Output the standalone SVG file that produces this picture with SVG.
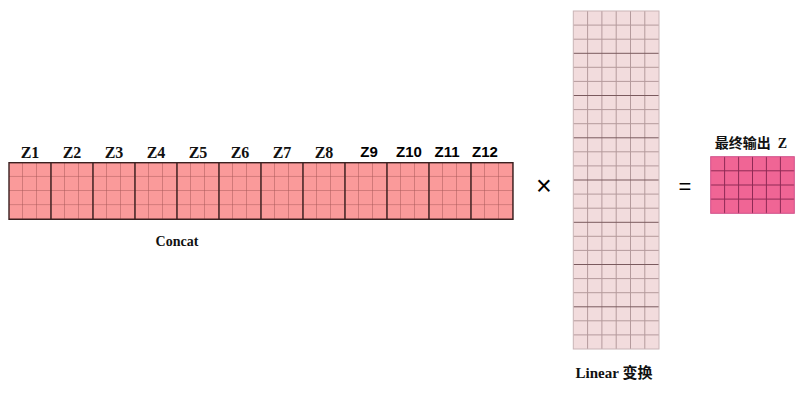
<svg xmlns="http://www.w3.org/2000/svg" width="806" height="402" viewBox="0 0 806 402">
<defs>
<style>
.ser{font-family:"Liberation Serif","Times New Roman",serif;font-weight:bold;fill:#111;text-anchor:middle}
.san{font-family:"Liberation Sans",Arial,sans-serif;font-weight:bold;fill:#000;text-anchor:middle}
.cjk{font-family:"Liberation Serif","Noto Sans CJK SC",serif;font-weight:bold;fill:#111;text-anchor:middle}
.inner{stroke:#a85858;stroke-width:1;fill:none}
.lin{stroke:#b49a9c;stroke-width:1;fill:none}
.lind{stroke:#7a5a5e;stroke-width:1;fill:none}
.outl{stroke:#8f2a55;stroke-width:1;fill:none}
</style>
<pattern id="cpat" x="9" y="162.7" width="14" height="14.15" patternUnits="userSpaceOnUse">
<path d="M14 0V14.15M0 14.15H14" class="inner"/>
</pattern>
</defs>
<rect width="806" height="402" fill="#fff"/>
<g id="concat">
<rect x="9" y="162.7" width="504" height="56.6" fill="#fa9a9a"/>
<rect x="9" y="162.7" width="504" height="56.6" fill="url(#cpat)"/>
<path d="M51 162.7V219.3M93 162.7V219.3M135 162.7V219.3M177 162.7V219.3M219 162.7V219.3M261 162.7V219.3M303 162.7V219.3M345 162.7V219.3M387 162.7V219.3M429 162.7V219.3M471 162.7V219.3" stroke="#3a2020" stroke-width="1.4"/>
<rect x="9" y="162.7" width="504" height="56.6" fill="none" stroke="#3a2020" stroke-width="1.4"/>
</g>
<g id="labels-z">
<text class="ser" x="30" y="158" font-size="16">Z1</text>
<text class="ser" x="72" y="158" font-size="16">Z2</text>
<text class="ser" x="114" y="158" font-size="16">Z3</text>
<text class="ser" x="156" y="158" font-size="16">Z4</text>
<text class="ser" x="198" y="158" font-size="16">Z5</text>
<text class="ser" x="240" y="158" font-size="16">Z6</text>
<text class="ser" x="282" y="158" font-size="16">Z7</text>
<text class="ser" x="324" y="158" font-size="16">Z8</text>
<text class="san" x="369" y="157" font-size="15">Z9</text>
<text class="san" x="409" y="157" font-size="15">Z10</text>
<text class="san" x="447" y="157" font-size="15">Z11</text>
<text class="san" x="485" y="157" font-size="15">Z12</text>
</g>
<g id="concat-label"><text class="ser" x="177" y="246" font-size="14">Concat</text></g>
<g id="times"><text class="san" x="544" y="195" font-size="27" style="font-weight:normal">×</text></g>
<g id="linear">
<rect x="573.3" y="11" width="85.7" height="338" fill="#f2dcdd"/>
<path class="lin" d="M587.6 11V349M601.9 11V349M616.2 11V349M630.5 11V349M644.8 11V349"/>
<path class="lin" d="M573.3 25.1H659M573.3 39.2H659M573.3 67.3H659M573.3 81.4H659M573.3 109.6H659M573.3 123.7H659M573.3 151.8H659M573.3 165.9H659M573.3 194.1H659M573.3 208.2H659M573.3 236.3H659M573.3 250.4H659M573.3 278.6H659M573.3 292.7H659M573.3 320.8H659M573.3 334.9H659"/>
<path class="lind" d="M573.3 53.3H659M573.3 95.5H659M573.3 137.8H659M573.3 180H659M573.3 222.3H659M573.3 264.5H659M573.3 306.8H659"/>
<rect x="573.3" y="11" width="85.7" height="338" fill="none" stroke="#c9b4b6" stroke-width="1"/>
</g>
<g id="linear-label"><text class="cjk" x="614" y="378" font-size="15">Linear 变换</text></g>
<g id="equals"><text class="san" x="685" y="194" font-size="22" style="font-weight:normal">=</text></g>
<g id="output">
<rect x="710.7" y="156.7" width="83.6" height="56.6" fill="#f06595"/>
<path class="outl" d="M724.6 156.7V213.3M738.6 156.7V213.3M752.5 156.7V213.3M766.4 156.7V213.3M780.4 156.7V213.3M710.7 170.8H794.3M710.7 185H794.3M710.7 199.1H794.3"/>
<rect x="710.7" y="156.7" width="83.6" height="56.6" fill="none" stroke="#d0508a" stroke-width="1"/>
</g>
<g id="output-label"><text class="cjk" x="751" y="148" font-size="14" xml:space="preserve">最终输出  Z</text></g>
</svg>
